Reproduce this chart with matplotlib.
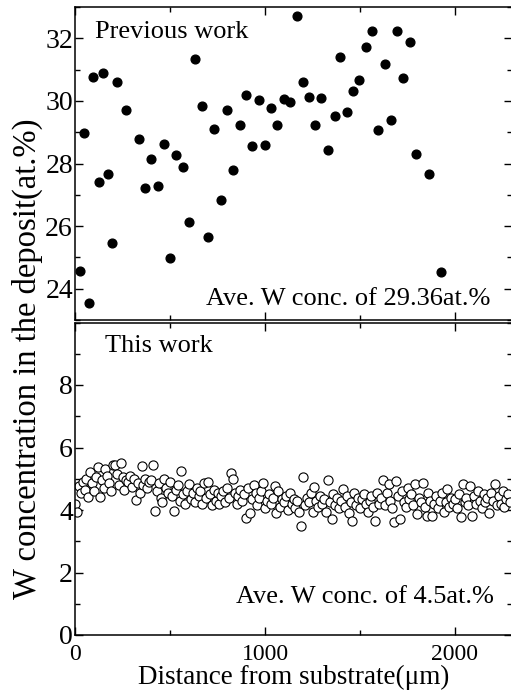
import matplotlib
matplotlib.use("Agg")
import matplotlib.pyplot as plt
from matplotlib.ticker import MultipleLocator

plt.rcParams['font.family'] = ['Liberation Serif', 'DejaVu Serif']

# ---- Previous work (filled circles) ----
prev_x = [26, 47, 74, 96, 125, 146, 172, 195, 221, 268, 335, 370, 400, 435, 468,
          502, 533, 567, 602, 632, 668, 700, 733, 767, 802, 832, 868, 900, 932,
          967, 998, 1032, 1065, 1098, 1132, 1167, 1200, 1232, 1265, 1295, 1330,
          1367, 1396, 1430, 1465, 1497, 1532, 1563, 1597, 1630, 1665, 1695, 1728,
          1763, 1793, 1861, 1928]
prev_y = [24.58, 28.96, 23.53, 30.75, 27.41, 30.90, 27.65, 25.45, 30.60, 29.72,
          28.77, 27.23, 28.13, 27.29, 28.62, 24.97, 28.26, 27.88, 26.13, 31.35,
          29.84, 25.64, 29.09, 26.83, 29.71, 27.79, 29.24, 30.20, 28.56, 30.03,
          28.60, 29.76, 29.24, 30.07, 29.96, 32.71, 30.60, 30.11, 29.23, 30.10,
          28.42, 29.52, 31.41, 29.66, 30.33, 30.66, 31.73, 32.23, 29.07, 31.19,
          29.40, 32.23, 30.73, 31.89, 28.29, 27.65, 24.54]

# ---- This work (open circles) ----
this_x = [
    0, 10, 20, 30, 40, 50, 60, 70, 80, 90,
    100, 110, 120, 130, 140, 150, 160, 170, 180, 190,
    200, 210, 220, 230, 240, 250, 260, 270, 280, 290,
    300, 310, 320, 330, 340, 350, 360, 370, 380, 390,
    400, 410, 420, 430, 440, 450, 460, 470, 480, 490,
    500, 510, 520, 530, 540, 550, 560, 570, 580, 590,
    600, 610, 620, 630, 640, 650, 660, 670, 680, 690,
    700, 710, 720, 730, 740, 750, 760, 770, 780, 790,
    800, 810, 820, 830, 840, 850, 860, 870, 880, 890,
    900, 910, 920, 930, 940, 950, 960, 970, 980, 990,
    1000, 1010, 1020, 1030, 1040, 1050, 1060, 1070, 1080, 1090,
    1100, 1110, 1120, 1130, 1140, 1150, 1160, 1170, 1180, 1190,
    1200, 1210, 1220, 1230, 1240, 1250, 1260, 1270, 1280, 1290,
    1300, 1310, 1320, 1330, 1340, 1350, 1360, 1370, 1380, 1390,
    1400, 1410, 1420, 1430, 1440, 1450, 1460, 1470, 1480, 1490,
    1500, 1510, 1520, 1530, 1540, 1550, 1560, 1570, 1580, 1590,
    1600, 1610, 1620, 1630, 1640, 1650, 1660, 1670, 1680, 1690,
    1700, 1710, 1720, 1730, 1740, 1750, 1760, 1770, 1780, 1790,
    1800, 1810, 1820, 1830, 1840, 1850, 1860, 1870, 1880, 1890,
    1900, 1910, 1920, 1930, 1940, 1950, 1960, 1970, 1980, 1990,
    2000, 2010, 2020, 2030, 2040, 2050, 2060, 2070, 2080, 2090,
    2100, 2110, 2120, 2130, 2140, 2150, 2160, 2170, 2180, 2190,
    2200, 2210, 2220, 2230, 2240, 2250, 2260, 2270, 2280, 2290]
this_y = [
    4.20, 3.93, 4.78, 4.54, 4.90, 4.65, 5.00, 4.41, 5.21, 4.85,
    4.60, 5.05, 5.37, 4.43, 4.95, 4.70, 5.31, 5.10, 4.88, 4.62,
    5.45, 5.44, 5.15, 4.80, 5.51, 5.05, 4.65, 4.95, 4.90, 5.10,
    4.75, 5.00, 4.33, 4.85, 4.55, 5.42, 4.80, 5.00, 4.70, 4.90,
    4.95, 5.45, 3.96, 4.60, 4.85, 4.40, 4.25, 5.00, 4.70, 4.55,
    4.90, 4.45, 3.98, 4.65, 4.80, 4.30, 5.24, 4.50, 4.20, 4.60,
    4.83, 4.35, 4.55, 4.25, 4.70, 4.45, 4.60, 4.20, 4.85, 4.40,
    4.90, 4.50, 4.15, 4.65, 4.30, 4.55, 4.20, 4.45, 4.60, 4.25,
    4.70, 4.40, 5.18, 4.99, 4.55, 4.20, 4.45, 4.65, 4.30, 4.50,
    3.75, 4.70, 3.90, 4.35, 4.80, 4.55, 4.15, 4.40, 4.60, 4.87,
    4.05, 4.30, 4.50, 4.20, 4.40, 4.78, 3.90, 4.60, 4.10, 4.35,
    4.25, 4.45, 4.00, 4.55, 4.20, 4.35, 4.05, 4.30, 3.95, 3.50,
    5.05, 4.15, 4.40, 4.25, 4.55, 3.95, 4.75, 4.30, 4.10, 4.45,
    4.20, 4.35, 3.95, 4.97, 4.25, 3.72, 4.50, 4.15, 4.40, 4.05,
    4.30, 4.68, 4.10, 4.45, 3.90, 4.25, 3.66, 4.55, 4.15, 4.40,
    4.05, 4.35, 4.50, 4.20, 3.95, 4.30, 4.45, 4.10, 3.64, 4.55,
    4.20, 4.40, 4.96, 4.15, 4.55, 4.83, 4.30, 4.05, 3.61, 4.92,
    4.45, 3.72, 4.60, 4.25, 4.10, 4.70, 4.35, 4.50, 4.15, 4.83,
    3.88, 4.40, 4.25, 4.87, 4.10, 3.82, 4.55, 4.30, 3.82, 4.20,
    4.45, 4.05, 4.30, 4.55, 3.95, 4.25, 4.68, 4.10, 4.40, 4.20,
    4.35, 4.05, 4.50, 3.79, 4.83, 4.25, 4.40, 4.15, 4.78, 3.82,
    4.45, 4.20, 4.60, 4.30, 4.05, 4.50, 4.25, 4.40, 3.91, 4.55,
    4.30, 4.83, 4.15, 4.45, 4.20, 4.60, 4.10, 4.36, 4.50, 4.25]

top_yticks = [24, 26, 28, 30, 32]
bot_yticks = [0, 2, 4, 6, 8]
x_ticks = [0, 1000, 2000]

W, H = 511, 691
fig = plt.figure(figsize=(W / 100, H / 100), dpi=100)

left = 75 / W
width = 437 / W
ax1 = fig.add_axes([left, (H - 320) / H, width, 313 / H])
ax2 = fig.add_axes([left, (H - 635) / H, width, 312.5 / H])

for ax in (ax1, ax2):
    ax.set_xlim(0, 2300)
    ax.xaxis.set_major_locator(MultipleLocator(1000))
    ax.xaxis.set_minor_locator(MultipleLocator(500))
    ax.yaxis.set_minor_locator(MultipleLocator(1))
    ax.tick_params(which='both', direction='in', top=True, right=True, width=1.0)
    ax.tick_params(which='major', length=6)
    ax.tick_params(which='minor', length=3.5)
    ax.tick_params(axis='y', labelsize=20, pad=1.5)
    ax.tick_params(axis='x', labelsize=17, pad=6.5)
    for s in ax.spines.values():
        s.set_linewidth(1.1)

ax1.plot(prev_x, prev_y, 'o', color='black', markersize=6.3, linestyle='none')
ax1.set_ylim(23, 33)
ax1.set_yticks(top_yticks)
ax1.set_xticks(x_ticks)
ax1.tick_params(axis='x', labelbottom=False)

ax2.plot(this_x, this_y, 'o', markerfacecolor='white', markeredgecolor='black',
         markeredgewidth=0.8, markersize=6.6, linestyle='none')
ax2.set_ylim(0, 10)
ax2.set_yticks(bot_yticks)
ax2.set_xticks(x_ticks)

ax1.text(0.046, 0.901, 'Previous work', transform=ax1.transAxes, fontsize=19,
         ha='left', va='baseline')
ax1.text(0.950, 0.048, 'Ave. W conc. of 29.36at.%', transform=ax1.transAxes,
         fontsize=19, ha='right', va='baseline')
ax2.text(0.069, 0.904, 'This work', transform=ax2.transAxes, fontsize=19,
         ha='left', va='baseline')
ax2.text(0.959, 0.102, 'Ave. W conc. of 4.5at.%', transform=ax2.transAxes,
         fontsize=19, ha='right', va='baseline')

ax2.set_xlabel('Distance from substrate(μm)', fontsize=19.5, labelpad=0)
fig.text(27 / W, 1 - 359 / H, 'W concentration in the deposit(at.%)', fontsize=23.5,
         rotation=90, ha='center', va='center')

fig.savefig('out.png', dpi=100)
